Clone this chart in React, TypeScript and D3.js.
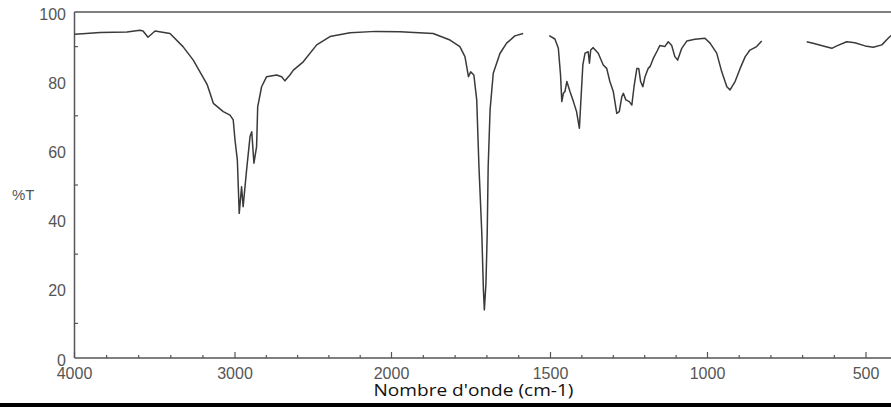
import React from "react";
import * as d3 from "d3";

// Spectrum segment 1 (4000 -> ~1586 cm-1)
const wn1 = [4000,3928,3841,3673,3592,3573,3542,3498,3405,3324,3260,3174,3135,3073,3031,3011,3000,2985,2973,2958,2948,2926,2904,2893,2879,2862,2855,2830,2798,2734,2702,2681,2649,2627,2564,2478,2393,2265,2100,1973,1869,1816,1785,1769,1758,1751,1741,1732,1725,1716,1711,1708,1703,1699,1696,1690,1680,1659,1638,1612,1586];
const t1 = [93.6,93.8,94.1,94.2,94.7,94.5,92.7,94.5,93.8,90.0,86.1,79.1,73.6,71.2,70.2,68.8,63,57.2,41.8,49.5,43.7,54.3,64,65.4,56.3,61.1,72.6,78.4,81.3,81.8,81.3,80.1,81.8,83.2,85.6,90.5,92.9,94.0,94.4,94.3,93.8,91.9,90,87.1,81.3,82.7,81.8,74.6,55.3,36,19.7,13.9,21.6,36,55.3,71.7,82.3,88,91,93.1,93.8];

// Spectrum segment 2 (~1504 -> ~829 cm-1)
const wn2 = [1504,1486,1475,1468,1464,1459,1454,1448,1438,1427,1417,1408,1404,1397,1390,1380,1376,1372,1364,1348,1332,1321,1311,1300,1289,1281,1273,1268,1260,1249,1241,1234,1225,1219,1213,1206,1199,1189,1183,1173,1160,1152,1136,1125,1114,1104,1095,1082,1066,1040,1008,992,971,955,939,929,913,897,881,866,845,829];
const t2 = [93.2,92.2,89.5,81.8,74.1,76.5,77,79.9,77,74.1,71.2,66.4,73.1,84.7,88.1,88.5,85.2,89,89.7,88.1,84.7,83.7,79.9,77,70.7,71.2,75.5,76.5,74.6,74.1,73.1,78.4,83.7,83.7,79.9,78.4,81.3,83.7,84.2,86.5,88.8,90.3,90,91.4,90.3,87.1,86.1,89.5,91.6,92.1,92.4,91,88.1,82.7,78.4,77.5,79.9,83.7,87.1,89,90,91.6];

// Spectrum segment 3 (~687 -> ~421 cm-1)
const wn3 = [687,661,635,608,592,561,535,503,477,450,430,421];
const t3 = [91.4,90.8,90.2,89.5,90.2,91.4,91.1,90.2,89.8,90.5,92.4,93.2];

const xMajor = [4000, 3000, 2000, 1500, 1000, 500];
const yMajor = [0, 20, 40, 60, 80, 100];
const xTitle = "Nombre d'onde (cm-1)";
const yTitle = "%T";

export default function App() {
  const W = 891, H = 407;
  const x = d3.scaleLinear()
    .domain([4000, 3000, 2000, 1500, 1000, 500])
    .range([74.5, 235, 391.5, 550.5, 707.5, 866]);
  const y = d3.scaleLinear().domain([0, 100]).range([358, 12]);

  const line = d3.line<[number, number]>()
    .x(d => x(d[0]))
    .y(d => y(d[1]))
    .curve(d3.curveLinear);

  const segs = [
    wn1.map((w, i) => [w, t1[i]] as [number, number]),
    wn2.map((w, i) => [w, t2[i]] as [number, number]),
    wn3.map((w, i) => [w, t3[i]] as [number, number]),
  ];

  const minorX: number[] = [];
  for (let v = 4000; v >= 2000; v -= 200) minorX.push(v);
  for (let v = 1900; v >= 400; v -= 100) minorX.push(v);
  const minorY: number[] = d3.range(10, 100, 20);

  const axisColor = "#555";
  const labelFont = "'Liberation Sans', Arial, sans-serif";

  return (
    <svg width={W} height={H} style={{ position: "absolute", left: 0, top: 0, background: "#fff" }}>
      <defs>
        <clipPath id="plot">
          <rect x={74} y={0} width={W - 74} height={360} />
        </clipPath>
      </defs>
      {/* frame */}
      <line x1={74.5} x2={W} y1={12} y2={12} stroke={axisColor} strokeWidth={1.5} />
      <line x1={74.5} x2={74.5} y1={12} y2={358} stroke={axisColor} strokeWidth={1.5} />
      <line x1={74.5} x2={W} y1={358} y2={358} stroke={axisColor} strokeWidth={1.5} />
      {/* x ticks */}
      {minorX.map(v => (
        <line key={"mx" + v} x1={x(v)} x2={x(v)} y1={358} y2={xMajor.includes(v) ? 352 : 355}
          stroke={axisColor} strokeWidth={1.2} />
      ))}
      {/* y ticks */}
      {minorY.map(v => (
        <line key={"my" + v} x1={74.5} x2={78} y1={y(v)} y2={y(v)} stroke={axisColor} strokeWidth={1.2} />
      ))}
      {/* labels */}
      {xMajor.map(v => (
        <text key={"xl" + v} x={x(v)} y={378.5} textAnchor="middle" fontFamily={labelFont}
          fontSize={16} fill="#555">{v}</text>
      ))}
      {yMajor.map(v => (
        <text key={"yl" + v} x={66} y={y(v) + 7.5} textAnchor="end" fontFamily={labelFont}
          fontSize={16} fill="#555">{v}</text>
      ))}
      <text x={12} y={200} fontFamily={labelFont} fontSize={15} fill="#555">{yTitle}</text>
      <text x={373.5} y={396} fontFamily="'Open Sans', sans-serif" fontSize={17} fill="#111"
        textLength={200} lengthAdjust="spacingAndGlyphs">{xTitle}</text>
      {/* spectrum */}
      <g clipPath="url(#plot)">
        {segs.map((s, i) => (
          <path key={i} d={line(s) || ""} fill="none" stroke="#3a3a3a" strokeWidth={1.5}
            strokeLinejoin="round" />
        ))}
      </g>
      {/* bottom bar */}
      <rect x={0} y={403} width={W} height={4} fill="#000" />
    </svg>
  );
}
